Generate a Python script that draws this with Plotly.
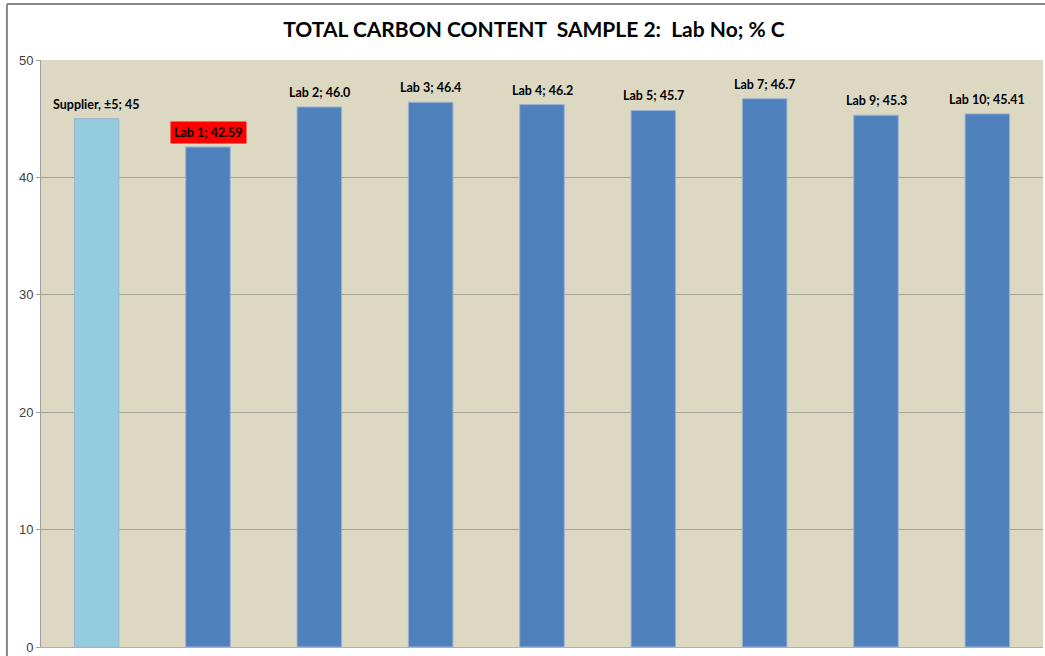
import plotly.graph_objects as go

categories = ["Supplier", "Lab 1", "Lab 2", "Lab 3", "Lab 4", "Lab 5", "Lab 7", "Lab 9", "Lab 10"]
values = [45, 42.59, 46.0, 46.4, 46.2, 45.7, 46.7, 45.3, 45.41]
labels = ["Supplier, ±5; 45", "Lab 1; 42.59", "Lab 2; 46.0", "Lab 3; 46.4", "Lab 4; 46.2",
          "Lab 5; 45.7", "Lab 7; 46.7", "Lab 9; 45.3", "Lab 10; 45.41"]
bar_colors = ["#93cddd"] + ["#4f81bd"] * 8
label_bg = ["rgba(0,0,0,0)", "#ff0000"] + ["rgba(0,0,0,0)"] * 7
y_ticks = [0, 10, 20, 30, 40, 50]

FONT = "Lato, Liberation Sans, sans-serif"

fig = go.Figure()
fig.add_trace(go.Bar(
    x=categories, y=values,
    marker=dict(color=bar_colors, line=dict(color="#9cb3d4", width=1)),
    width=0.4, hoverinfo="x+y",
))

for c, v, t, bg in zip(categories, values, labels, label_bg):
    fig.add_annotation(
        x=c, y=v, text="<b>" + t + "</b>", showarrow=False,
        yanchor="bottom", yshift=3,
        font=dict(family=FONT, size=12.5, color="#000000"),
        bgcolor=bg, borderpad=3,
    )

fig.update_layout(
    width=1045, height=656,
    margin=dict(l=41, r=2, t=60, b=9, autoexpand=False),
    paper_bgcolor="#ffffff",
    plot_bgcolor="#ddd8c2",
    showlegend=False,
    bargap=0.6,
    title=dict(text="<b>TOTAL CARBON CONTENT  SAMPLE 2:  Lab No; % C</b>",
               x=0.492, xref="paper", xanchor="center", y=0.955, yanchor="middle",
               font=dict(family=FONT, size=21, color="#000000")),
    xaxis=dict(showticklabels=False, showgrid=False, zeroline=False,
               showline=True, linecolor="#b0b0b0", linewidth=1, ticks=""),
    yaxis=dict(range=[0, 50], tickvals=y_ticks, showgrid=True, gridcolor="#a6a294",
               gridwidth=1, zeroline=False, showline=True, linecolor="#a0a0a0",
               ticks="outside", ticklen=4, tickcolor="#a0a0a0", automargin=False,
               tickfont=dict(family="Liberation Sans, Arial, sans-serif", size=13, color="#404040")),
    shapes=[
        dict(type="line", xref="paper", yref="paper", x0=-0.034, x1=1.01, y0=1.0954, y1=1.0954,
             line=dict(color="#888888", width=2)),
        dict(type="line", xref="paper", yref="paper", x0=-0.034, x1=-0.034, y0=-0.05, y1=1.0954,
             line=dict(color="#888888", width=2)),
    ],
)

fig.write_html("out.html", config={"displayModeBar": False},
               post_script="document.body.style.margin='0';document.body.style.padding='0';")
